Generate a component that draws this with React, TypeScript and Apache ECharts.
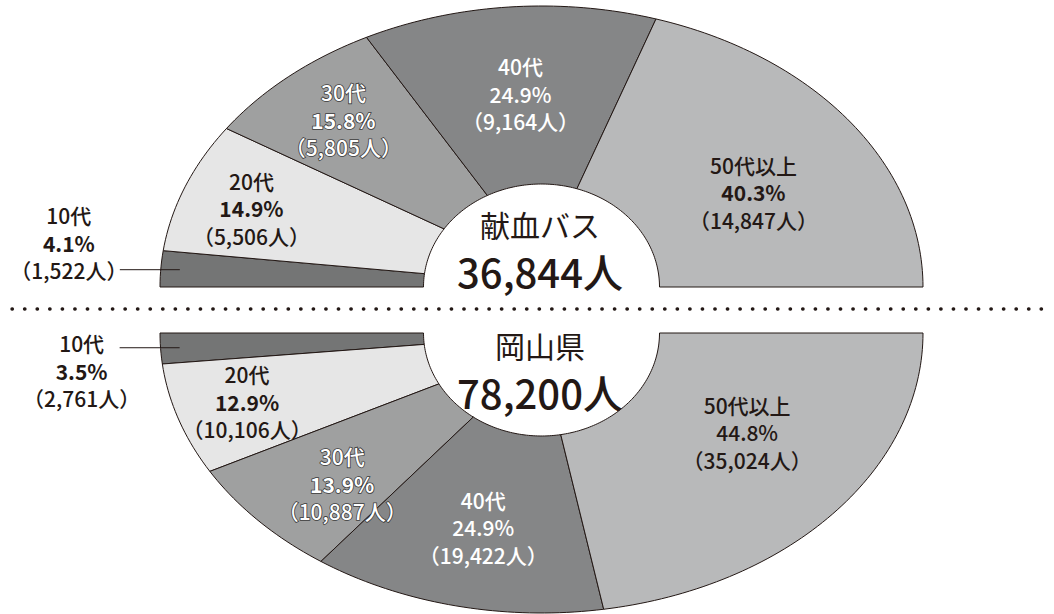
import React, { useEffect, useRef } from "react";
import * as echarts from "echarts";

// ---- data ----
const ageGroups = ["10代", "20代", "30代", "40代", "50代以上"];
const busTitle = "献血バス";
const busPercent = [4.1, 14.9, 15.8, 24.9, 40.3];
const busCount = [1522, 5506, 5805, 9164, 14847];
const busTotal = 36844;
const prefTitle = "岡山県";
const prefPercent = [3.5, 12.9, 13.9, 24.9, 44.8];
const prefCount = [2761, 10106, 10887, 19422, 35024];
const prefTotal = 78200;

// ---- layout / style ----
const FONT = '"Noto Sans CJK JP", "Noto Sans", sans-serif';
const INK = "#231815";
const sliceColors = ["#747575", "#e6e6e6", "#9fa0a0", "#858687", "#b8b9ba"];
const labelColors = [INK, INK, "#ffffff", "#ffffff", INK];
const labelOutline = [false, false, true, false, false];
const CX = 541.5;
const RX = 381.5;
const RX_IN = 118;
const RY_IN = 103;

type HalfCfg = {
  base: number;
  ry: number;
  sign: number; // -1 upwards, +1 downwards
  place: ({ da: number; k: number } | null)[];
  pctBold: boolean[];
  outsideDx: number;
  outsideDy: number;
};

const topCfg: HalfCfg = {
  base: 287,
  ry: 281,
  sign: -1,
  place: [null, { da: -0.7, k: 0.81 }, { da: 0.4, k: 0.79 }, { da: 0.35, k: 0.69 }, { da: 5, k: 0.65 }],
  pctBold: [true, true, true, false, true],
  outsideDx: -51,
  outsideDy: -27,
};
const bottomCfg: HalfCfg = {
  base: 333,
  ry: 280,
  sign: 1,
  place: [null, { da: -0.3, k: 0.81 }, { da: 3.7, k: 0.75 }, { da: 0.55, k: 0.71 }, { da: 7, k: 0.645 }],
  pctBold: [true, true, true, false, false],
  outsideDx: -38,
  outsideDy: 23,
};

function fmt(n: number) {
  return n.toLocaleString("en-US");
}

function makeSeries(counts: number[], percents: number[], cfg: HalfCfg) {
  const total = counts.reduce((a, b) => a + b, 0);
  let acc = 0;
  const data = counts.map((c, i) => {
    const s = acc / total;
    acc += c;
    return [s, acc / total, i];
  });
  const pt = (f: number, rx: number, ry: number) => {
    const a = Math.PI * f;
    return [CX - rx * Math.cos(a), cfg.base + cfg.sign * ry * Math.sin(a)];
  };
  return {
    type: "custom",
    coordinateSystem: "none",
    silent: true,
    data,
    renderItem: (params: any, api: any) => {
      const s = api.value(0) as number;
      const e = api.value(1) as number;
      const i = api.value(2) as number;
      const n = Math.max(3, Math.ceil((e - s) * 160));
      const points: number[][] = [];
      for (let j = 0; j <= n; j++) points.push(pt(s + ((e - s) * j) / n, RX, cfg.ry));
      for (let j = n; j >= 0; j--) points.push(pt(s + ((e - s) * j) / n, RX_IN, RY_IN));
      const children: any[] = [
        {
          type: "polygon",
          z2: 1,
          shape: { points },
          style: { fill: sliceColors[i], stroke: INK, lineWidth: 1 },
        },
      ];
      const color = labelColors[i];
      const outline = labelOutline[i];
      const base = {
        fill: color,
        fontFamily: FONT,
        fontSize: 21,
        lineHeight: 27.5,
        stroke: outline ? "#3c3c3c" : undefined,
        lineWidth: outline ? 1.6 : 0,
      };
      const rich = {
        n: { ...base, fontWeight: 500 },
        p: { ...base, fontWeight: cfg.pctBold[i] ? "bold" : 500 },
        c: { ...base, fontWeight: 500 },
      };
      const text = `{n|${ageGroups[i]}}\n{p|${percents[i]}%}\n{c|（${fmt(counts[i])}人）}`;
      const mid = (s + e) / 2;
      const place = cfg.place[i];
      if (place) {
        const [x, y] = pt(mid + place.da / 180, RX * place.k, cfg.ry * place.k);
        children.push({
          type: "text",
          z2: 100,
          x,
          y,
          style: { text, align: "center", verticalAlign: "middle", rich, fill: color },
        });
      } else {
        const [lx, ly] = pt(mid, RX * 0.95, cfg.ry * 0.95);
        const sx = lx - 60;
        children.push({
          type: "line",
          z2: 50,
          shape: { x1: sx, y1: ly, x2: lx, y2: ly },
          style: { stroke: INK, lineWidth: 1 },
        });
        children.push({
          type: "text",
          z2: 100,
          x: sx + cfg.outsideDx,
          y: ly + cfg.outsideDy,
          style: { text, align: "center", verticalAlign: "middle", rich, fill: color },
        });
      }
      return { type: "group", children };
    },
  };
}

export default function App() {
  const ref = useRef<HTMLDivElement>(null);
  useEffect(() => {
    if (!ref.current) return;
    const chart = echarts.init(ref.current, undefined, { renderer: "svg" });
    chart.setOption({
      animation: false,
      backgroundColor: "#ffffff",
      series: [makeSeries(busCount, busPercent, topCfg), makeSeries(prefCount, prefPercent, bottomCfg)],
      graphic: [
        {
          type: "line",
          silent: true,
          shape: { x1: 12, y1: 309, x2: 1052, y2: 309 },
          style: { stroke: INK, lineWidth: 3.4, lineCap: "round", lineDash: [0.4, 12.15] },
        },
        {
          type: "text",
          x: 540,
          y: 224,
          style: { text: busTitle, font: `400 30px ${FONT}`, lineHeight: 30, fill: INK, align: "center", verticalAlign: "middle" },
        },
        {
          type: "text",
          x: 540,
          y: 271,
          style: { text: `${fmt(busTotal)}人`, font: `500 40px ${FONT}`, lineHeight: 40, fill: INK, align: "center", verticalAlign: "middle" },
        },
        {
          type: "text",
          x: 540,
          y: 345,
          style: { text: prefTitle, font: `400 30px ${FONT}`, lineHeight: 30, fill: INK, align: "center", verticalAlign: "middle" },
        },
        {
          type: "text",
          x: 540,
          y: 392,
          style: { text: `${fmt(prefTotal)}人`, font: `500 40px ${FONT}`, lineHeight: 40, fill: INK, align: "center", verticalAlign: "middle" },
        },
      ],
    });
    return () => chart.dispose();
  }, []);
  return <div ref={ref} style={{ position: "fixed", left: 0, top: 0, width: 1054, height: 614 }} />;
}
